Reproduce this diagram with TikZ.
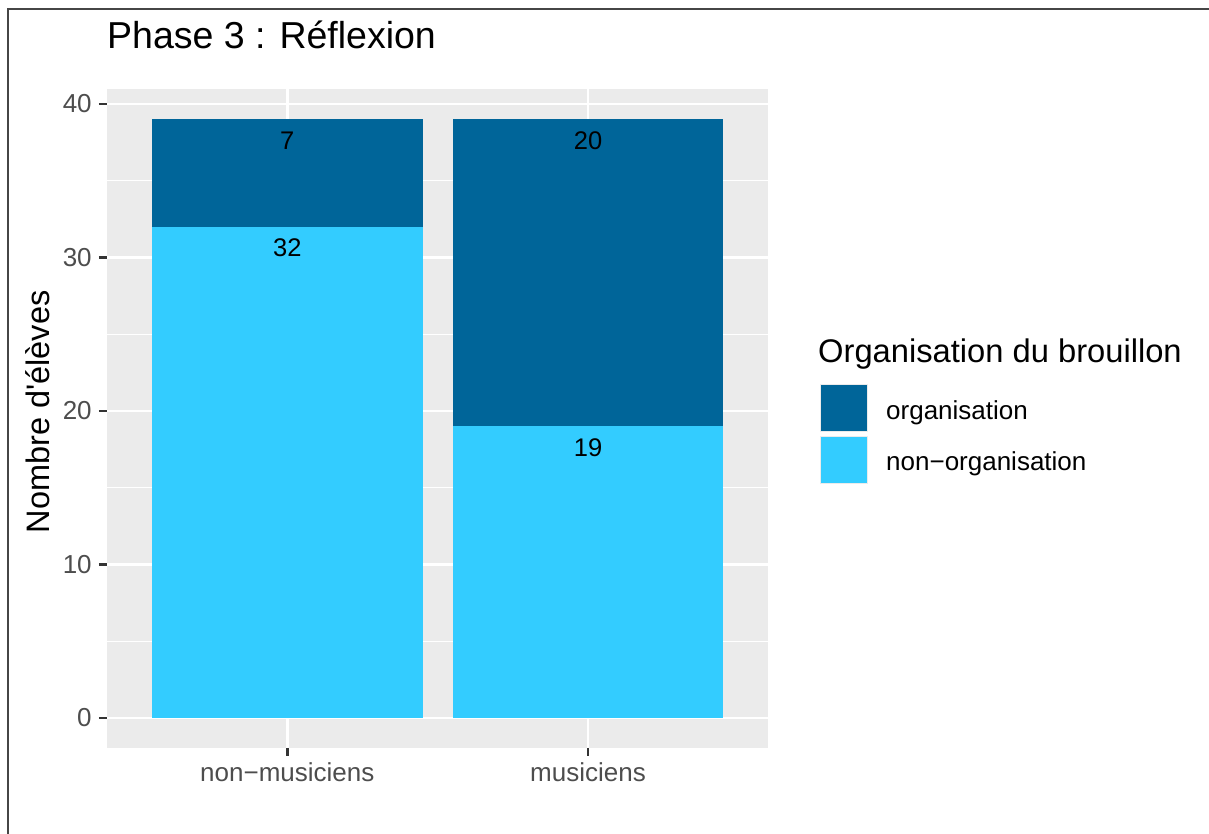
\documentclass[tikz,border=0pt]{standalone}
\usepackage{fontspec}
\setmainfont{Liberation Sans}
\definecolor{orgdark}{RGB}{0,101,153}
\definecolor{orglight}{RGB}{51,204,255}
\definecolor{panelgrey}{RGB}{235,235,235}
\definecolor{tickgrey}{RGB}{51,51,51}
\definecolor{labelgrey}{RGB}{77,77,77}
\definecolor{framegrey}{RGB}{70,70,70}
\tikzset{
  majorgrid/.style={white,line width=2.8pt},
  minorgrid/.style={white,line width=1.4pt},
  axtick/.style={tickgrey,line width=2.8pt},
  ticklabel/.style={text=labelgrey,inner sep=0pt,font=\fontsize{26}{30}\selectfont},
  barlabel/.style={inner sep=0pt,anchor=base,font=\fontsize{25.5}{30}\selectfont},
  keybox/.style={draw=panelgrey,line width=1pt}
}
\begin{document}
\begin{tikzpicture}[x=1pt,y=1pt]
 \useasboundingbox (0,0) rectangle (1209,834);
 % frame of the screenshot
 \draw[framegrey,line width=1.6pt](8,0)--(8,825)--(1209,825);
 % title
 \node[anchor=base west,inner sep=0pt,font=\fontsize{37.5}{44}\selectfont] (title) at (107,785) {Phase 3 : Réflexion};
 % plot in data coordinates
 \begin{scope}[shift={(-13.4,116)},x=300.7pt,y=15.35pt]
  \fill[panelgrey](0.4,-1.95) rectangle (2.6,40.95);
  \foreach \k in {5,15,25,35} \draw[minorgrid](0.4,\k)--(2.6,\k);
  \foreach \k in {0,10,20,30,40} \draw[majorgrid](0.4,\k)--(2.6,\k);
  \foreach \c in {1,2} \draw[majorgrid](\c,-1.95)--(\c,40.95);
  % bars
  \fill[orglight](0.55,0) rectangle (1.45,32);
  \fill[orgdark](0.55,32) rectangle (1.45,39);
  \fill[orglight](1.55,0) rectangle (2.45,19);
  \fill[orgdark](1.55,19) rectangle (2.45,39);
  \node[barlabel] (lblA) at ([yshift=-30pt]1,39) {7};
  \node[barlabel] (lblB) at ([yshift=-30pt]1,32) {32};
  \node[barlabel] (lblC) at ([yshift=-30pt]2,39) {20};
  \node[barlabel] (lblD) at ([yshift=-30pt]2,19) {19};
  % y axis
  \foreach \k in {0,10,20,30,40}{
   \draw[axtick]([xshift=-8pt]0.4,\k)--(0.4,\k);
   \node[ticklabel,anchor=east] (ytick\k) at ([xshift=-15pt]0.4,\k) {\k};
  }
  % x axis
  \draw[axtick](1,-1.95)--([yshift=-8pt]1,-1.95);
  \draw[axtick](2,-1.95)--([yshift=-8pt]2,-1.95);
  \node[ticklabel,anchor=base] (xnon) at ([yshift=-34pt]1,-1.95) {non−musiciens};
  \node[ticklabel,anchor=base] (xmus) at ([yshift=-34pt]2,-1.95) {musiciens};
 \end{scope}
 \node[rotate=90,inner sep=0pt,font=\fontsize{32.5}{38}\selectfont] (ylab) at (37.5,422) {Nombre d\textquotesingle élèves};
 % legend
 \node[anchor=base west,inner sep=0pt,font=\fontsize{32.7}{38}\selectfont] (legtitle) at (818,471) {Organisation du brouillon};
 \filldraw[keybox,fill=orgdark](820,449) rectangle (867,402);
 \filldraw[keybox,fill=orglight](820,397) rectangle (867,350);
 \node[ticklabel,text=black,anchor=base west] (legorg) at (886,414) {organisation};
 \node[ticklabel,text=black,anchor=base west] (legnon) at (886,363) {non−organisation};
\end{tikzpicture}
\end{document}
